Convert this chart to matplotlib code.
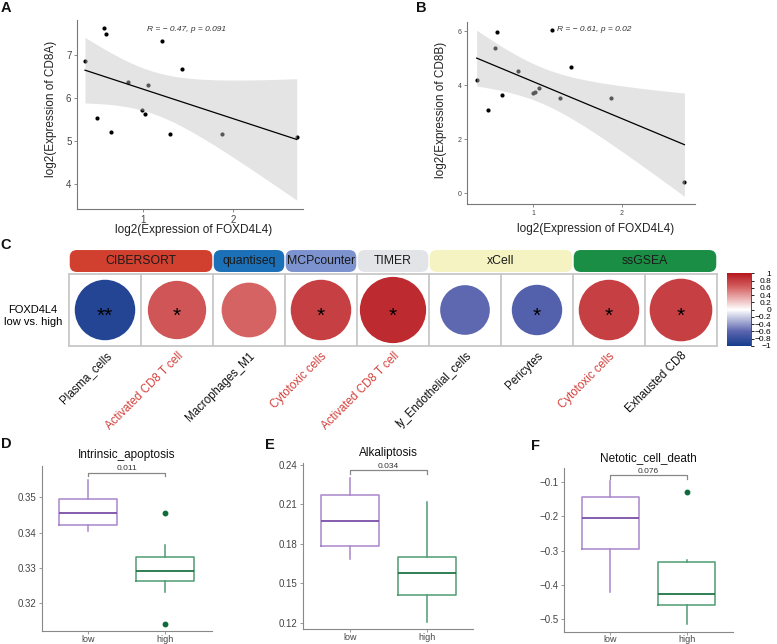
import numpy as np
import matplotlib
matplotlib.use('Agg')
import matplotlib.pyplot as plt
from matplotlib.patches import Circle, FancyBboxPatch
from matplotlib.colors import LinearSegmentedColormap, Normalize
from matplotlib.colorbar import ColorbarBase

plt.rcParams['font.family'] = ['Liberation Sans', 'DejaVu Sans']

# --- A / B : correlation with FOXD4L4 ---
foxd4l4 = [0.356, 0.49, 0.565, 0.59, 0.64, 0.83, 0.99, 1.02, 1.06, 1.21, 1.30, 1.43, 1.88, 2.71]
cd8a = [6.85, 5.53, 7.63, 7.48, 5.22, 6.36, 5.71, 5.62, 6.30, 7.32, 5.17, 6.67, 5.17, 5.10]
cd8b = [4.19, 3.07, 5.39, 5.97, 3.64, 4.53, 3.70, 3.76, 3.90, 6.07, 3.54, 4.68, 3.52, 0.43]

# --- C : immune infiltration, low vs. high ---
methods = ['CIBERSORT', 'quantiseq', 'MCPcounter', 'TIMER', 'xCell', 'ssGSEA']
method_span = [2, 1, 1, 1, 2, 2]
cells = ['Plasma_cells', 'Activated CD8 T cell', 'Macrophages_M1', 'Cytotoxic cells',
         'Activated CD8 T cell', 'ly_Endothelial_cells', 'Pericytes', 'Cytotoxic cells',
         'Exhausted CD8']
cor_values = [-0.90, 0.68, 0.61, 0.79, 0.90, -0.58, -0.64, 0.79, 0.79]
abs_effect = [0.84, 0.81, 0.76, 0.84, 0.92, 0.69, 0.70, 0.84, 0.87]
signif = ['**', '*', '', '*', '*', '', '*', '*', '*']
cd8_related = [False, True, False, True, True, False, False, True, False]

# --- D / E / F : cell death scores (whislo, q1, med, q3, whishi) ---
groups = ['low', 'high']
intrinsic_low = [0.34045, 0.34224, 0.34547, 0.34950, 0.35490]
intrinsic_high = [0.32326, 0.32637, 0.32921, 0.33300, 0.33649]
intrinsic_high_out = [0.34555, 0.31419]
alkali_low = [0.1682, 0.1783, 0.1973, 0.2172, 0.2299]
alkali_high = [0.1207, 0.1408, 0.1575, 0.1702, 0.2116]
netotic_low = [-0.4208, -0.2954, -0.2049, -0.1434, -0.0980]
netotic_high = [-0.5120, -0.4584, -0.4254, -0.3340, -0.3280]
netotic_high_out = [-0.1298]

W, H = 777, 644
fig = plt.figure(figsize=(W / 100, H / 100), dpi=100)


def px_axes(l, t, r, b):
    return fig.add_axes([l / W, 1 - b / H, (r - l) / W, (b - t) / H])


def scatter_panel(ax, x, y, xlim, ylim, yticks, ylabel, note, note_xy, tsize):
    x = np.asarray(x)
    y = np.asarray(y)
    ax.scatter(x, y, s=9, color='black', lw=0, zorder=2)
    slope, icpt = np.polyfit(x, y, 1)
    xs = np.linspace(x.min(), x.max(), 100)
    fit = slope * xs + icpt
    n = len(x)
    resid = y - (slope * x + icpt)
    s = np.sqrt(np.sum(resid ** 2) / (n - 2))
    se = s * np.sqrt(1 / n + (xs - x.mean()) ** 2 / np.sum((x - x.mean()) ** 2))
    t = 2.179  # t quantile, df = 12
    ax.fill_between(xs, fit - t * se, fit + t * se, color='#c4c4c4', alpha=0.45, lw=0, zorder=3)
    ax.plot(xs, fit, color='black', lw=0.9, zorder=4)
    ax.set_xlim(xlim)
    ax.set_ylim(ylim)
    ax.set_xticks([1, 2])
    ax.set_yticks(yticks)
    for sp in ['top', 'right']:
        ax.spines[sp].set_visible(False)
    for sp in ['left', 'bottom']:
        ax.spines[sp].set_color('#777777')
        ax.spines[sp].set_linewidth(0.8)
    ax.tick_params(labelsize=tsize, colors='#777777', labelcolor='#444444', length=2.5, width=0.6, pad=1.5)
    ax.set_xlabel('log2(Expression of FOXD4L4)', fontsize=8.5, color='#222222', va='center')
    ax.set_ylabel(ylabel, fontsize=8.5, color='#222222', va='center')
    ax.text(note_xy[0], note_xy[1], note, fontsize=6, style='italic', color='#333333',
            ha='left', va='center')


axA = px_axes(77, 20, 303, 209)
scatter_panel(axA, foxd4l4, cd8a, (0.267, 2.78), (3.42, 7.81), [4, 5, 6, 7],
              'log2(Expression of CD8A)', 'R = \u2212 0.47, p = 0.091', (1.04, 7.6), 7)
axA.xaxis.set_label_coords(0.518, -0.111)
axA.yaxis.set_label_coords(-0.116, 0.53)

axB = px_axes(467.3, 21.7, 695, 204)
scatter_panel(axB, foxd4l4, cd8b, (0.25, 2.83), (-0.40, 6.36), [0, 2, 4, 6],
              'log2(Expression of CD8B)', 'R = \u2212 0.61, p = 0.02', (1.265, 6.07), 5)
axB.xaxis.set_label_coords(0.563, -0.139)
axB.yaxis.set_label_coords(-0.115, 0.516)

# --- C ---
cor_cmap = LinearSegmentedColormap.from_list(
    'cor', [(0, '#143C8C'), (0.2, '#5A64AE'), (0.5, '#FFFFFF'), (0.8, '#D66666'), (1, '#B5171F')])
norm = Normalize(-1, 1)
method_colors = ['#D1402F', '#1B70B8', '#7C93CF', '#E3E4E8', '#F5F3C1', '#1A8E45']

axC = px_axes(69, 250, 717, 346)
axC.set_xlim(0, len(cells))
axC.set_ylim(0, 96 / 72)
axC.axis('off')
for i in range(len(cells) + 1):
    axC.plot([i, i], [0, 1], color='#C8C8C8', lw=1.3, clip_on=False, zorder=1)
for yy in [0, 1]:
    axC.plot([0, len(cells)], [yy, yy], color='#C8C8C8', lw=1.3, clip_on=False, zorder=1)
for i, (v, a, st, red, name) in enumerate(zip(cor_values, abs_effect, signif, cd8_related, cells)):
    axC.add_patch(Circle((i + 0.5, 0.5), 0.5 * a, color=cor_cmap(norm(v)), lw=0, zorder=2))
    if st:
        axC.text(i + 0.5, 0.5 - 0.165, st, fontsize=15, ha='center', va='baseline', zorder=3)
    axC.text(i + 0.5, -0.055, name, rotation=45, rotation_mode='anchor', ha='right', va='top',
             fontsize=8.3, color='#D43F3A' if red else '#111111')
start = 0
for m, span, col in zip(methods, method_span, method_colors):
    axC.add_patch(FancyBboxPatch((start + 0.01, 1.028), span - 0.02, 0.305,
                                 boxstyle='round,pad=0,rounding_size=0.1', fc=col, ec='none',
                                 clip_on=False, zorder=2))
    axC.text(start + span / 2, 1.18, m, fontsize=8.8, ha='center', va='center', color='#1a1a1a')
    start += span

fig.text(33 / W, 1 - 316 / H, 'FOXD4L4\nlow vs. high', fontsize=8, ha='center', va='center',
         linespacing=1.25)

cax = px_axes(727.3, 273.3, 750.7, 346)
ticks = np.round(np.linspace(-1, 1, 11), 1) + 0.0
cb = ColorbarBase(cax, cmap=cor_cmap, norm=norm, ticks=ticks)
cb.outline.set_visible(False)
cb.set_ticklabels([f'{v:g}'.replace('-', '\u2212') for v in ticks])
cax.tick_params(labelsize=6, length=2.5, width=0.6, pad=12.5)
for lab in cax.get_yticklabels():
    lab.set_ha('right')
cax.plot([1, 1], [0, 1], transform=cax.transAxes, color='#333333', lw=0.6, clip_on=False)


# --- D / E / F ---
def box_panel(ax, low, high, high_out, ylim, yticks, title, pval, pad):
    stats = []
    for q, out in [(low, []), (high, high_out)]:
        stats.append(dict(whislo=q[0], q1=q[1], med=q[2], q3=q[3], whishi=q[4], fliers=out))
    bp = ax.bxp(stats, positions=[1, 2], widths=0.75, showcaps=False, manage_ticks=False)
    styles = [('#A886CB', '#7A4FA6'), ('#4E9C72', '#207447')]
    for i, (c, mc) in enumerate(styles):
        bp['boxes'][i].set(color=c, lw=1.1)
        bp['medians'][i].set(color=mc, lw=1.3)
        bp['whiskers'][2 * i].set(color=c, lw=1.1)
        bp['whiskers'][2 * i + 1].set(color=c, lw=1.1)
        bp['fliers'][i].set(marker='o', markerfacecolor='#0F6B3C', markeredgecolor='#0F6B3C',
                            markersize=3.2)
    ax.set_xlim(0.4, 2.6)
    ax.set_ylim(ylim)
    ax.set_yticks(yticks)
    ax.set_xticks([1, 2], groups)
    for sp in ['top', 'right']:
        ax.spines[sp].set_visible(False)
    for sp in ['left', 'bottom']:
        ax.spines[sp].set_color('#888888')
        ax.spines[sp].set_linewidth(0.8)
    ax.tick_params(labelsize=7, colors='#888888', labelcolor='#444444', length=2.5, width=0.6, pad=1.5)
    ax.tick_params(axis='x', labelsize=6.5, length=2, pad=0.6)
    ax.set_title(title, fontsize=8.5, pad=pad, color='#111111')
    tr = ax.get_xaxis_transform()
    ax.plot([1, 1, 2, 2], [0.937, 0.957, 0.957, 0.937], transform=tr, color='#888888', lw=0.9,
            clip_on=False)
    ax.text(1.5, 0.962, pval, transform=tr, fontsize=6, ha='center', va='bottom', color='#333333')


axD = px_axes(41.7, 466, 211.7, 631)
box_panel(axD, intrinsic_low, intrinsic_high, intrinsic_high_out, (0.31212, 0.35887),
          [0.32, 0.33, 0.34, 0.35], 'Intrinsic_apoptosis', '0.011', 5.5)
axE = px_axes(303.3, 463.3, 473.3, 629.3)
box_panel(axE, alkali_low, alkali_high, [], (0.1149, 0.2413),
          [0.12, 0.15, 0.18, 0.21, 0.24], 'Alkaliptosis', '0.034', 5)
axF = px_axes(564.3, 468.3, 732.7, 631.5)
box_panel(axF, netotic_low, netotic_high, netotic_high_out, (-0.535, -0.0613),
          [-0.5, -0.4, -0.3, -0.2, -0.1], 'Netotic_cell_death', '0.076', 5.5)

for letter, (px, py) in zip('ABCDEF', [(6, 8.5), (421.5, 8), (6, 245), (6, 444), (270, 445), (536, 446)]):
    fig.text(px / W, 1 - py / H, letter, fontsize=10.5, fontweight='bold', ha='center', va='center',
             color='#111111')

fig.savefig('out.png', dpi=100)
